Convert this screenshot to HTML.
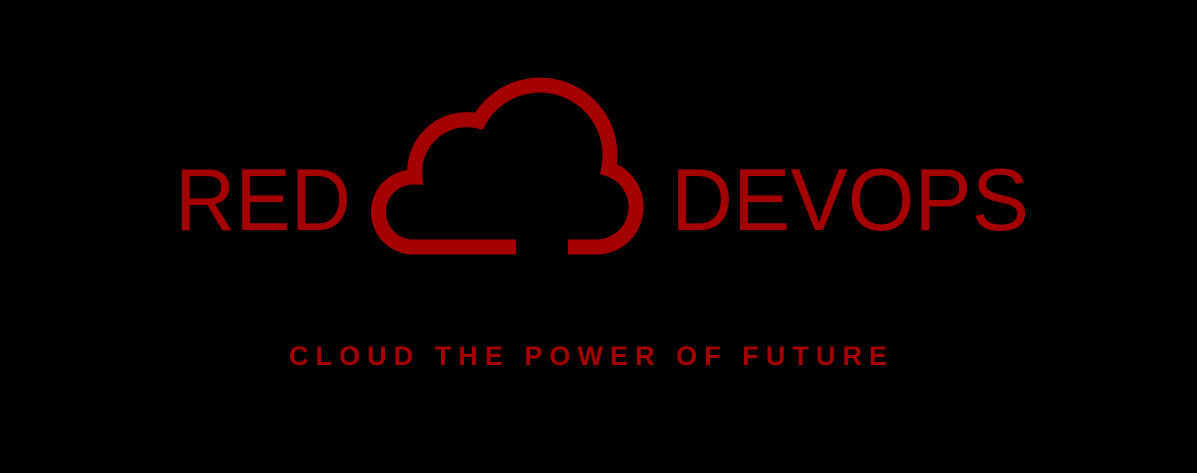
<!DOCTYPE html>
<html><head><meta charset="utf-8"><style>
html,body{margin:0;padding:0;background:#000;}
svg{display:block}
</style></head><body>
<svg width="1197" height="473" viewBox="0 0 1197 473" xmlns="http://www.w3.org/2000/svg">
<rect width="1197" height="473" fill="#000"/>
<g fill="#a50000" font-family="Liberation Sans, sans-serif">
<text x="175" y="230" font-size="88" textLength="176" lengthAdjust="spacingAndGlyphs">RED</text>
<text x="671" y="230" font-size="88" textLength="358" lengthAdjust="spacingAndGlyphs">DEVOPS</text>
<text x="289" y="365" font-size="27" font-weight="bold" textLength="598" lengthAdjust="spacing">CLOUD THE POWER OF FUTURE</text>
</g>
<path d="M516,247 H412 A35 35 0 1 1 415 177 A52 52 0 0 1 478.8 121.1 A70 70 0 0 1 608.6 169 A40 40 0 0 1 596 247 H568" fill="none" stroke="#a50000" stroke-width="15"/>
</svg>
</body></html>
